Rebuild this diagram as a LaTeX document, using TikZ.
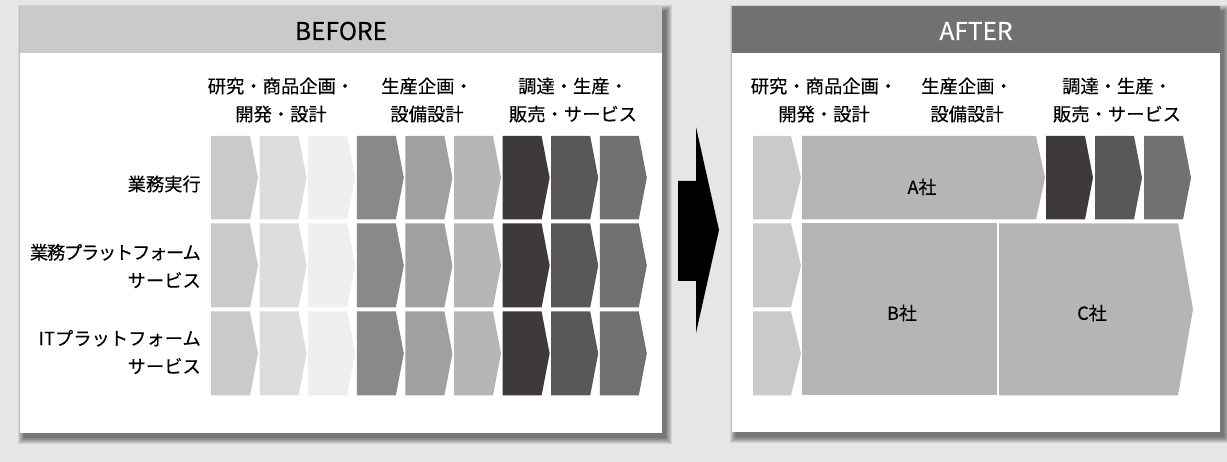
\documentclass[tikz,border=0pt]{standalone}
\usepackage{fontspec}
\newfontfamily\jp[FakeBold=0.25]{Noto Sans CJK JP}
\newfontfamily\jpn[FakeBold=0.25,LetterSpace=-7]{Noto Sans CJK JP}
\definecolor{bgc}{HTML}{E6E6E6}
\definecolor{hdrA}{HTML}{C9CACA}
\definecolor{hdrB}{HTML}{727171}
\definecolor{ca}{HTML}{C9CACA}
\definecolor{cb}{HTML}{DCDDDD}
\definecolor{cc}{HTML}{EFEFEF}
\definecolor{cd}{HTML}{898989}
\definecolor{ce}{HTML}{9FA0A0}
\definecolor{cf}{HTML}{B5B5B6}
\definecolor{cg}{HTML}{3E3A39}
\definecolor{ch}{HTML}{595757}
\definecolor{ci}{HTML}{727171}
% chevron: x0, y0, shoulder x, tip x, y1, colour
\newcommand{\mychev}[6]{\fill[#6] (#1,#2) -- (#3,#2) -- (#4,{(#2+#5)/2}) -- (#3,#5) -- (#1,#5) -- cycle;}
% shadowed panel: x0,y0,x1,y1
\newcommand{\mypanel}[4]{%
  \foreach \r in {0,...,6}{\fill[black,opacity=0.085] ({#1+4-\r},{#2+5-\r}) rectangle ({#3+4+\r},{#4+5+\r});}
  \fill[white] (#1,#2) rectangle (#3,#4);}
\begin{document}
\begin{tikzpicture}[x=1pt,y=-1pt,
  lbl/.style={font=\jp\fontsize{18.3}{28}\selectfont, align=center, inner sep=0pt},
  rlbl/.style={lbl, align=right, anchor=east},
  ttl/.style={font=\jp\fontsize{24.5}{28}\selectfont, inner sep=0pt},
  co/.style={font=\jp\fontsize{18}{20}\selectfont, inner sep=0pt}]
\fill[bgc] (0,0) rectangle (1227,462);
\useasboundingbox (0,0) rectangle (1227,462);
% panels
\mypanel{20}{6}{662}{433}
\mypanel{732}{6}{1220}{432}
\fill[hdrA] (20,6) rectangle (662,53);
\fill[hdrB] (732,6) rectangle (1220,53);
\node[ttl, text=black] (before) at (341,31) {BEFORE};
\node[ttl, text=white] (after) at (976,31) {AFTER};
% column headings
\node[lbl] (b1) at (281,100) {研究・商品企画・\\開発・設計};
\node[lbl] (b2) at (427,100) {生産企画・\\設備設計};
\node[lbl] (b3) at (573,100) {調達・生産・\\販売・サービス};
\node[lbl] (a1) at (824,100) {研究・商品企画・\\開発・設計};
\node[lbl] (a2) at (967,100) {生産企画・\\設備設計};
\node[lbl] (a3) at (1117,100) {調達・生産・\\販売・サービス};
% row labels
\node[rlbl] (r1) at (201,184) {業務実行};
\node[rlbl] (r2) at (201,266) {{\jpn 業務プラットフォーム}\\サービス};
\node[rlbl] (r3) at (201,352) {ITプラットフォーム\\サービス};
% BEFORE chevrons
\foreach \ya/\yb in {136/219.5, 223.5/307.5, 311.5/395.5}{
  \foreach \i/\c in {0/ca,1/cb,2/cc,3/cd,4/ce,5/cf,6/cg,7/ch,8/ci}{
    \pgfmathsetmacro{\xa}{211+48.6*\i}
    \pgfmathsetmacro{\xs}{\xa+39}
    \pgfmathsetmacro{\xt}{\xa+47}
    \mychev{\xa}{\ya}{\xs}{\xt}{\yb}{\c}
  }
}
% AFTER
\mychev{753}{136}{791}{801}{219.5}{ca}
\mychev{753}{223.5}{791}{801}{307.5}{ca}
\mychev{753}{311.5}{791}{801}{395.5}{ca}
\mychev{802}{136}{1036}{1045}{219.5}{cf}
\mychev{1046}{136}{1085}{1093}{219.5}{cg}
\mychev{1095}{136}{1134}{1142}{219.5}{ch}
\mychev{1144}{136}{1183}{1191}{219.5}{ci}
\fill[cf] (802,223.5) rectangle (997,395.5);
\mychev{999}{223.5}{1178}{1193}{395.5}{cf}
\node[co] (ca) at (922,187) {A社};
\node[co] (cbn) at (902,313) {B社};
\node[co] (ccn) at (1092,313) {C社};
% big arrow
\fill[black] (678,181) -- (696,181) -- (696,127) -- (719,230) -- (696,333) -- (696,281) -- (678,281) -- cycle;
\end{tikzpicture}
\end{document}
